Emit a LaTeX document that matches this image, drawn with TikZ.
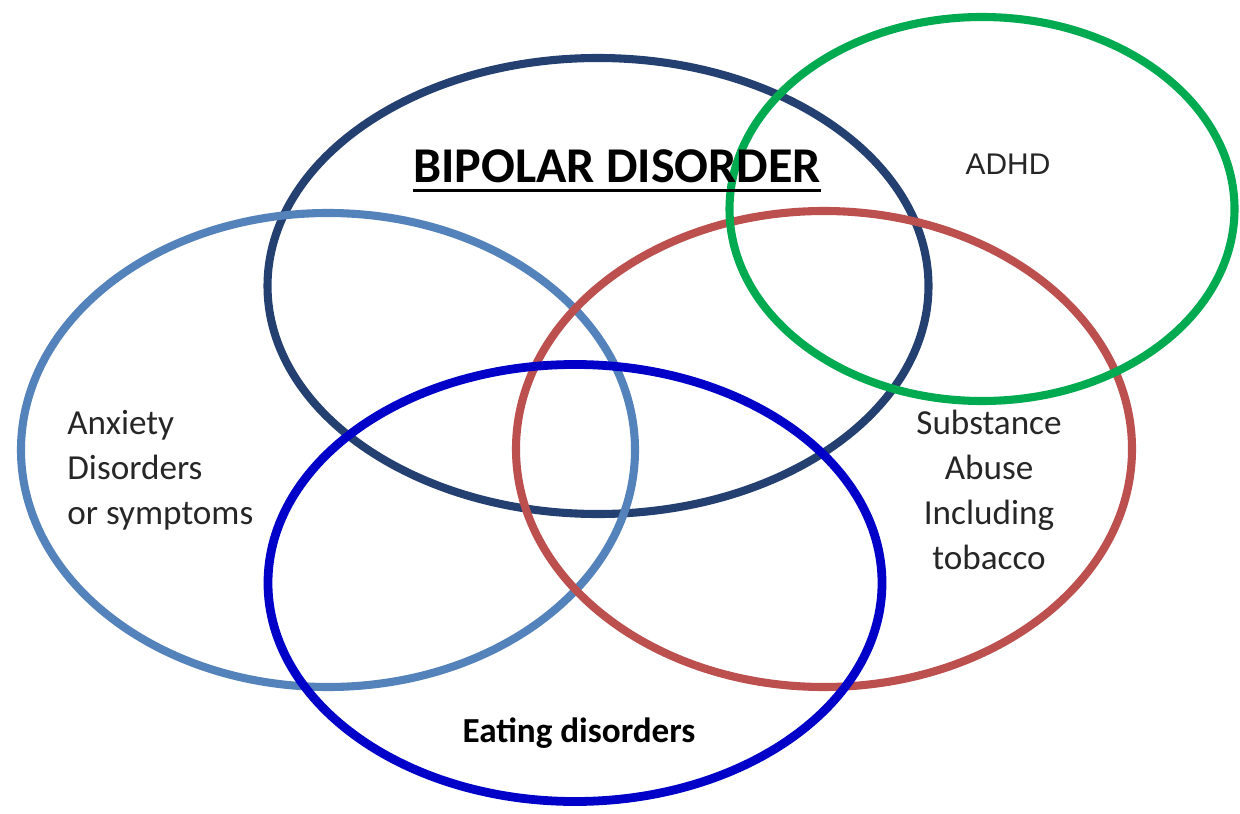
\documentclass[tikz,border=0pt]{standalone}
\usepackage{fontspec}
\setmainfont{Carlito}
\newfontfamily\arialfont{Liberation Sans}
\usepackage{tikz}
\usetikzlibrary{shapes.geometric}
\pgfdeclarelayer{ringlayer}
\pgfdeclarelayer{textlayer}
\pgfsetlayers{ringlayer,main,textlayer}
\definecolor{bpnavy}{RGB}{36,64,112}
\definecolor{bplight}{RGB}{84,130,186}
\definecolor{bpred}{RGB}{188,80,78}
\definecolor{bpgreen}{RGB}{0,170,80}
\definecolor{bpblue}{RGB}{0,0,200}
\tikzstyle{ring}=[ellipse, draw, line width=4.6pt, inner sep=0pt]
\tikzstyle{navyring}=[ring, draw=bpnavy]
\tikzstyle{lightring}=[ring, draw=bplight]
\tikzstyle{redring}=[ring, draw=bpred]
\tikzstyle{greenring}=[ring, draw=bpgreen]
\tikzstyle{bluering}=[ring, draw=bpblue, line width=5pt]
\tikzstyle{ringtext}=[inner sep=0pt, text=black!85, font=\fontsize{20}{25.5}\selectfont]

\begin{document}
\begin{tikzpicture}[x=0.2mm, y=0.2mm]
	\useasboundingbox (0, 0) rectangle (1240, 813);
	\begin{pgfonlayer}{ringlayer}
		\node [style=navyring, minimum width=132.2mm, minimum height=91.2mm] (bipolar) at (598, 527) {};
		\node [style=lightring, minimum width=122.8mm, minimum height=94.8mm] (anxiety) at (328, 363) {};
		\node [style=redring, minimum width=123.2mm, minimum height=95.2mm] (substance) at (824, 364) {};
		\node [style=greenring, minimum width=101mm, minimum height=76.8mm] (adhd) at (982, 604) {};
		\node [style=bluering, minimum width=122.8mm, minimum height=87.4mm] (eating) at (575, 230) {};
	\end{pgfonlayer}
	\begin{pgfonlayer}{textlayer}
		\node [style=ringtext, anchor=base, text=black, font=\fontsize{28.5}{34}\selectfont\bfseries] (bip) at (617, 630) {BIPOLAR DISORDER};
		\draw [line width=1.7pt] ([yshift=-4pt]bip.base west) -- ([yshift=-4pt]bip.base east);
		\node [style=ringtext, anchor=base, font=\fontsize{17}{20}\arialfont] (adhdtext) at (1008, 638) {ADHD};
		\node [style=ringtext, anchor=west, align=left] (anxtext) at (67, 343) {Anxiety\\Disorders\\or symptoms};
		\node [style=ringtext, align=center] (subtext) at (989, 323) {Substance\\Abuse\\Including\\tobacco};
		\node [style=ringtext, anchor=base, text=black, font=\fontsize{20}{24}\selectfont\bfseries] (eattext) at (579, 71) {Eating disorders};
	\end{pgfonlayer}
\end{tikzpicture}
\end{document}
